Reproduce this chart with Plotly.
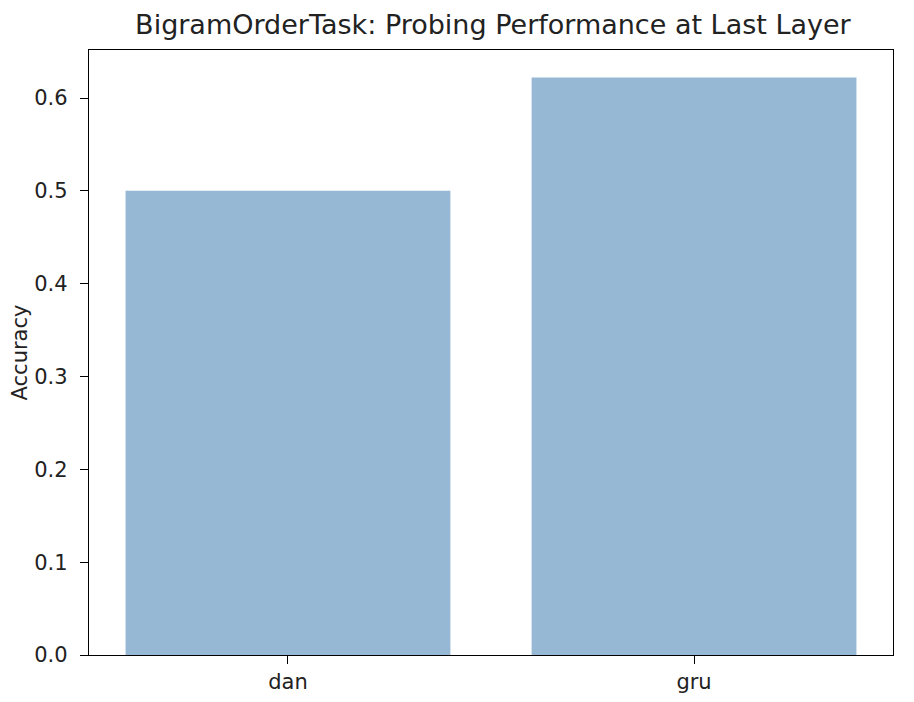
'''Bar chart of probing accuracy at the last layer.'''

import plotly.graph_objects as go

models = ['dan', 'gru']
positions = [0, 1]
accuracy = [0.500, 0.622]
y_ticks = [0.0, 0.1, 0.2, 0.3, 0.4, 0.5, 0.6]


def main():
    '''Main driver.'''
    fig = go.Figure(go.Bar(
        x=positions,
        y=accuracy,
        width=0.8,
        marker={'color': '#96b8d4', 'line': {'width': 0}},
    ))
    axis_style = {
        'showline': True,
        'linecolor': 'black',
        'linewidth': 1.4,
        'mirror': True,
        'ticks': 'outside',
        'ticklen': 8,
        'tickwidth': 1.4,
        'tickcolor': 'black',
        'showgrid': False,
        'zeroline': False,
        'automargin': False,
        'tickfont': {'size': 21, 'color': '#222'},
    }
    fig.update_xaxes(
        range=[-0.49, 1.49],
        tickvals=positions,
        ticktext=models,
        ticklabelstandoff=0,
        **axis_style,
    )
    fig.update_yaxes(
        range=[0, 0.6517],
        tickvals=y_ticks,
        tickformat='.1f',
        ticklabelstandoff=8,
        title={'text': 'Accuracy', 'font': {'size': 21, 'color': '#222'}, 'standoff': 14},
        **axis_style,
    )
    # the page adds an 8px body margin, so the figure is 16px smaller
    fig.update_layout(
        width=898,
        height=686,
        font={'family': 'DejaVu Sans', 'color': '#222'},
        title={
            'text': 'BigramOrderTask: Probing Performance at Last Layer',
            'x': 0.540,
            'xanchor': 'center',
            'y': 1 - 17 / 686,
            'yanchor': 'middle',
            'font': {'size': 27, 'color': '#222'},
        },
        plot_bgcolor='white',
        paper_bgcolor='white',
        margin={'l': 81, 'r': 13, 't': 42, 'b': 39},
        showlegend=False,
    )
    fig.write_html('out.html')


if __name__ == '__main__':
    main()
